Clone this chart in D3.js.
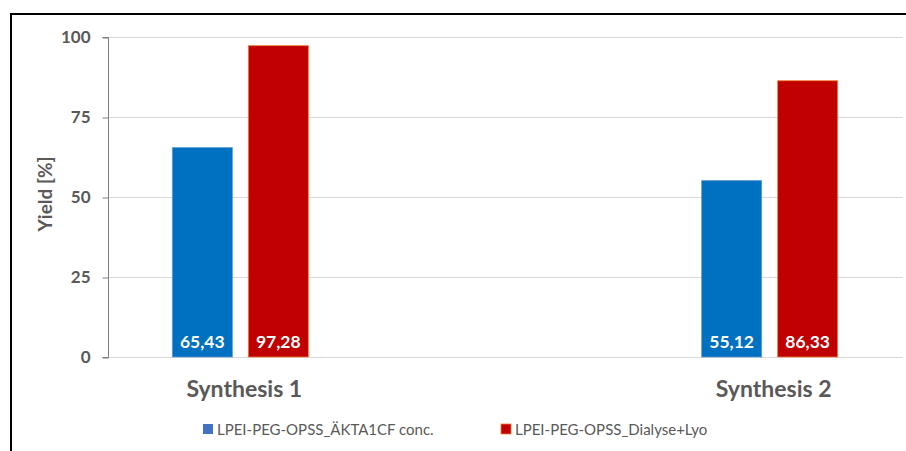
<!DOCTYPE html>
<html>
<head>
<meta charset="utf-8">
<script src="https://cdn.jsdelivr.net/npm/d3@7"></script>
<style>
  html, body { margin: 0; padding: 0; background: #fff; }
  svg { display: block; font-family: Lato, "Open Sans", sans-serif; }
</style>
</head>
<body>
<svg id="chart" width="906" height="451"></svg>
<script>
// Yield per synthesis run, two purification routes
const categories = ["Synthesis 1", "Synthesis 2"];
const seriesNames = ["LPEI-PEG-OPSS_ÄKTA1CF conc.", "LPEI-PEG-OPSS_Dialyse+Lyo"];
const aktaValues = [65.43, 55.12];
const dialyseValues = [97.28, 86.33];
const yTicks = [0, 25, 50, 75, 100];

const seriesColors = ["#0070C0", "#C00000"];
const seriesStroke = ["#5B9BD5", "#ED7D31"];
const series = [aktaValues, dialyseValues];

const svg = d3.select("#chart");
const W = 906, H = 451;
const plot = { left: 108, right: 902, top: 37, bottom: 357 };

svg.append("rect").attr("width", W).attr("height", H).attr("fill", "#fff");

// outer frame
svg.append("rect")
  .attr("x", 11).attr("y", 14)
  .attr("width", W + 20).attr("height", H + 20)
  .attr("fill", "none").attr("stroke", "#000").attr("stroke-width", 2);

const y = d3.scaleLinear().domain([0, 100]).range([plot.bottom, plot.top]);
const x = d3.scalePoint().domain(categories).range([plot.left, plot.right]).padding(0.25);

// gridlines
svg.append("g")
  .selectAll("line")
  .data(yTicks)
  .join("line")
  .attr("x1", plot.left).attr("x2", plot.right + 1)
  .attr("y1", d => Math.round(y(d)) + 0.5).attr("y2", d => Math.round(y(d)) + 0.5)
  .attr("stroke", "#d9d9d9").attr("stroke-width", 1);

// y axis
const yAxis = d3.axisLeft(y).tickValues(yTicks).tickSize(6).tickPadding(12);
const ga = svg.append("g")
  .attr("transform", `translate(${plot.left + 0.5},0.5)`)
  .call(yAxis);
ga.select(".domain").attr("stroke", "#7f7f7f").attr("d", `M-6,${y(100)}H0V${y(0)}H-6`);
ga.selectAll(".tick line").attr("stroke", "#7f7f7f");
ga.selectAll(".tick text")
  .attr("fill", "#595959")
  .attr("font-size", 17)
  .attr("font-weight", "bold")
  .attr("font-family", "Lato, sans-serif");

// y axis title
svg.append("text")
  .attr("transform", `translate(52,194) rotate(-90)`)
  .attr("text-anchor", "middle")
  .attr("fill", "#595959")
  .attr("font-size", 19)
  .attr("font-weight", "bold")
  .text("Yield [%]");

// bars
const barW = 60;
const offsets = [-68, 8];
series.forEach((vals, si) => {
  const g = svg.append("g");
  g.selectAll("rect")
    .data(vals)
    .join("rect")
    .attr("x", (d, i) => x(categories[i]) + offsets[si])
    .attr("y", d => y(d))
    .attr("width", barW)
    .attr("height", d => y(0) - y(d))
    .attr("fill", seriesColors[si])
    .attr("stroke", seriesStroke[si])
    .attr("stroke-width", 0.8);
  g.selectAll("text")
    .data(vals)
    .join("text")
    .attr("x", (d, i) => x(categories[i]) + offsets[si] + barW / 2)
    .attr("y", y(0) - 9)
    .attr("text-anchor", "middle")
    .attr("fill", "#fff")
    .attr("font-size", 17.5)
    .attr("font-weight", "bold")
    .text(d => d.toFixed(2).replace(".", ","));
});

// category labels
svg.append("g")
  .selectAll("text")
  .data(categories)
  .join("text")
  .attr("x", d => x(d) + 4)
  .attr("y", 397)
  .attr("text-anchor", "middle")
  .attr("fill", "#595959")
  .attr("font-size", 23)
  .attr("font-weight", "bold")
  .text(d => d);

// legend
const legendX = [203, 501];
const lg = svg.append("g");
seriesNames.forEach((name, i) => {
  lg.append("rect")
    .attr("x", legendX[i]).attr("y", 424)
    .attr("width", 10).attr("height", 10)
    .attr("fill", i === 0 ? "#4472C4" : seriesColors[i])
    .attr("stroke", i === 0 ? "none" : seriesStroke[i])
    .attr("stroke-width", 0.8);
  lg.append("text")
    .attr("x", legendX[i] + 14).attr("y", 434.5)
    .attr("fill", "#595959")
    .attr("font-size", 15)
    .text(name);
});
</script>
</body>
</html>
